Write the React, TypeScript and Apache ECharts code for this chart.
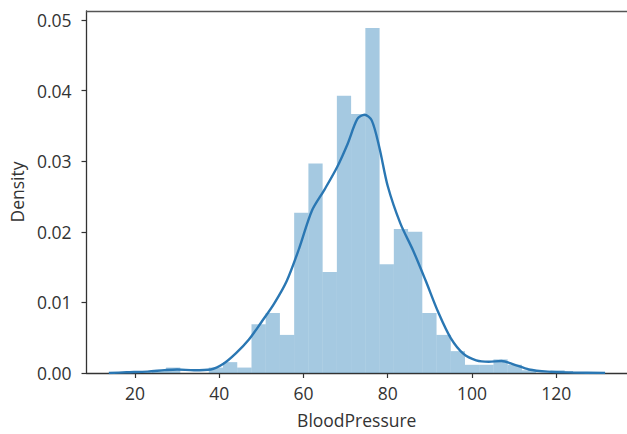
import React, { useEffect, useRef } from "react";
import * as echarts from "echarts";

// Histogram bin edges (29 bins) and densities
const binEdges = [
  24, 27.38, 30.76, 34.14, 37.52, 40.9, 44.28, 47.66, 51.03, 54.41, 57.79, 61.17,
  64.55, 67.93, 71.31, 74.69, 78.07, 81.45, 84.83, 88.21, 91.59, 94.97, 98.34,
  101.72, 105.1, 108.48, 111.86, 115.24, 118.62, 122,
];
const binDensity = [
  0.00039, 0.00077, 0, 0, 0.00077, 0.00154, 0.00077, 0.0069, 0.0085, 0.0054,
  0.0227, 0.0297, 0.0143, 0.0393, 0.0367, 0.0489, 0.0154, 0.0204, 0.02, 0.0085,
  0.0054, 0.0031, 0.00116, 0.00116, 0.00193, 0.00116, 0.00039, 0, 0.00039,
];

// KDE curve
const kdeX = [
  13.8, 18, 23, 27, 30, 34, 38, 41, 44, 47, 50, 53, 56, 59, 62, 65, 68, 70.5, 72.8,
  74.5, 76.2, 78, 80, 83, 86, 89, 92, 95, 98, 101, 104, 107, 110, 113.5, 118, 124,
  131.6,
];
const kdeY = [
  0, 0.0001, 0.0002, 0.0004, 0.0005, 0.0004, 0.0005, 0.0013, 0.0028, 0.0047,
  0.0072, 0.0098, 0.013, 0.0177, 0.023, 0.026, 0.0292, 0.0325, 0.036, 0.0366,
  0.0358, 0.032, 0.0265, 0.0212, 0.0174, 0.0131, 0.0086, 0.0049, 0.0027, 0.0018,
  0.0016, 0.0017, 0.0012, 0.0005, 0.0002, 0.00008, 0,
];

const xTicks = [20, 40, 60, 80, 100, 120];
const yTicks = [0, 0.01, 0.02, 0.03, 0.04, 0.05];

const X_MIN = 8.5;
const X_MAX = 136.8;

const FONT = "Open Sans";
const TEXT = "#333333";

export default function App() {
  const ref = useRef<HTMLDivElement>(null);

  useEffect(() => {
    if (!ref.current) return;
    const chart = echarts.init(ref.current, undefined, { renderer: "svg" });

    const barData = binDensity.map((d, i) => [binEdges[i], binEdges[i + 1], d]);
    const kdeData = kdeX.map((x, i) => [x, kdeY[i]]);

    chart.setOption({
      animation: false,
      backgroundColor: "#ffffff",
      grid: {
        left: 86.5,
        right: 0,
        top: 11,
        bottom: 58.3,
        show: false,
      },
      xAxis: [
        {
          type: "value",
          min: X_MIN,
          max: X_MAX,
          name: "BloodPressure",
          nameLocation: "middle",
          nameGap: 38,
          nameTextStyle: { fontFamily: FONT, fontSize: 17.5, color: TEXT },
          splitLine: { show: false },
          axisLine: { show: true, lineStyle: { color: "#333333", width: 1.3 } },
          axisTick: {
            show: true,
            length: 5,
            customValues: xTicks,
            lineStyle: { color: "#333333", width: 1.2 },
          },
          axisLabel: {
            customValues: xTicks,
            fontFamily: FONT,
            fontSize: 17.5,
            color: TEXT,
            margin: 11,
          },
        },
        {
          type: "value",
          position: "top",
          min: X_MIN,
          max: X_MAX,
          splitLine: { show: false },
          axisLine: { show: true, onZero: false, lineStyle: { color: "#555555", width: 1.3 } },
          axisTick: { show: false },
          axisLabel: { show: false },
        },
      ],
      yAxis: {
        type: "value",
        min: 0,
        max: 0.0513,
        name: "Density",
        nameLocation: "middle",
        nameGap: 60,
        nameTextStyle: { fontFamily: FONT, fontSize: 17.5, color: TEXT },
        splitLine: { show: false },
        axisLine: { show: true, lineStyle: { color: "#333333", width: 1.3 } },
        axisTick: {
          show: true,
          length: 5,
          customValues: yTicks,
          lineStyle: { color: "#333333", width: 1.2 },
        },
        axisLabel: {
          customValues: yTicks,
          fontFamily: FONT,
          fontSize: 17.5,
          color: TEXT,
          margin: 15,
          formatter: (v: number) => v.toFixed(2),
        },
      },
      series: [
        {
          type: "custom",
          xAxisIndex: 0,
          data: barData,
          encode: { x: [0, 1], y: 2 },
          renderItem: (params: any, api: any) => {
            const x0 = api.value(0);
            const x1 = api.value(1);
            const d = api.value(2);
            const p0 = api.coord([x0, d]);
            const p1 = api.coord([x1, 0]);
            return {
              type: "rect",
              shape: { x: p0[0], y: p0[1], width: p1[0] - p0[0], height: p1[1] - p0[1] },
              style: { fill: "rgba(31,119,180,0.4)" },
            };
          },
          z: 1,
        },
        {
          type: "line",
          xAxisIndex: 0,
          data: kdeData,
          smooth: 0.3,
          showSymbol: false,
          symbol: "none",
          lineStyle: { color: "#2a77b3", width: 2.4 },
          z: 3,
        },
      ],
    });

    return () => chart.dispose();
  }, []);

  return (
    <div
      ref={ref}
      style={{ position: "fixed", left: 0, top: 0, width: 627, height: 434, background: "#fff" }}
    />
  );
}
